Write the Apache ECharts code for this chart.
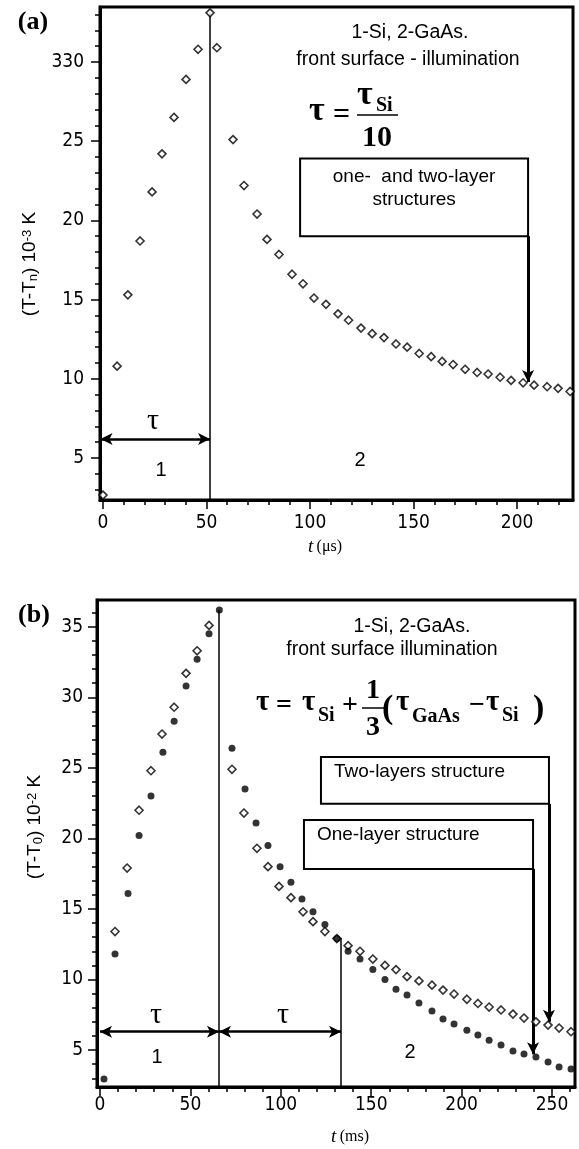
<!DOCTYPE html>
<html><head><meta charset="utf-8">
<script src="https://cdn.jsdelivr.net/npm/echarts@6/dist/echarts.min.js"></script>
<style>html,body{margin:0;padding:0;background:#fff}#c{width:579px;height:1149px}</style>
</head><body><div id="c"></div>
<script>
// ---------- Panel (a) data ----------
const tA = [0,6.8,12,17.9,23.7,28.5,34.3,40.1,45.9,51.7,55,62.8,68.1,74.4,79.2,85,91.3,96.6,101.9,107.7,113.5,118.6,124.6,130,135.7,141.5,146.9,152.7,158.5,163.8,169.1,174.9,180.7,186,191.8,197.1,202.9,208.2,214.5,219.8,225.6];
const yA = [2.66,10.8,15.3,18.7,21.8,24.2,26.5,28.9,30.8,33.1,30.9,25.1,22.2,20.4,18.8,17.85,16.6,16.0,15.1,14.7,14.1,13.7,13.2,12.85,12.6,12.2,12.0,11.6,11.4,11.1,10.9,10.6,10.4,10.3,10.1,9.9,9.75,9.6,9.5,9.4,9.2];
const xRangeA = [-1.45, 227];
const yRangeA = [2.35, 33.47];
const xMajorA = [0,50,100,150,200];
const xMinorA = [0,10,20,30,40,50,60,70,80,90,100,110,120,130,140,150,160,170,180,190,200,210,220];
const yMajorA = [5,10,15,20,25,30];
const yLabelsA = ['5','10','15','20','25','330'];
const yMinorA = [3,4,5,6,7,8,9,10,11,12,13,14,15,16,17,18,19,20,21,22,23,24,25,26,27,28,29,30,31,32,33];
// annotations (a): tau line, tau arrow, box, pointer
const tauLineA = [51.7, 33.1];
const tauArrowA = [-1.2, 51.7, 6.2];
const boxA = [95.2, 23.9, 205.3, 19.0];
const pointerA = [205.3, 19.0, 9.8];

// ---------- Panel (b) data ----------
const tB1 = [8.3,15,21.6,28.2,34.3,41,47.6,53.7,60.3,73,79.6,86.8,92.9,99,105.6,112.3,117.8,124.4,131,137.2,143.8,150.9,157.6,163.7,169.8,176.4,183.6,189.7,195.8,202.9,209,215.2,221.8,228.4,234.5,241.1,247.8,253.9,260.5];
const yB1 = [13.4,17.9,22.0,24.8,27.4,29.3,31.7,33.3,35.1,24.9,21.8,19.3,18.0,16.6,15.8,14.8,14.1,13.4,12.9,12.4,12.0,11.45,11.0,10.7,10.2,9.9,9.6,9.25,8.97,8.6,8.3,8.05,7.84,7.55,7.27,7.0,6.77,6.56,6.3];
const tB2 = [2.2,8.3,15.5,21.6,28.2,34.8,41,47.6,53.7,60.3,66,73,80.2,86.3,92.9,99.6,105.6,111.7,117.8,124.4,131,137.2,143.8,150.9,157.6,163.7,169.8,176.4,183.6,189.7,195.8,202.9,209,215.2,221.8,228.4,234.5,241.1,247.8,253.9,260.5];
const yB2 = [2.94,11.8,16.1,20.2,23.0,26.1,28.3,30.8,32.7,34.5,36.2,26.4,23.5,21.1,19.5,18.0,16.9,15.7,14.8,13.9,12.9,12.0,11.45,10.7,10.0,9.3,8.9,8.33,7.77,7.2,6.84,6.4,6.06,5.7,5.35,4.93,4.72,4.5,4.15,3.8,3.65];
const xRangeB = [-1.66, 262.7];
const yRangeB = [2.38, 36.9];
const xMajorB = [0,50,100,150,200,250];
const xMinorB = [0,10,20,30,40,50,60,70,80,90,100,110,120,130,140,150,160,170,180,190,200,210,220,230,240,250,260];
const yMajorB = [5,10,15,20,25,30,35];
const yMinorB = [3,4,5,6,7,8,9,10,11,12,13,14,15,16,17,18,19,20,21,22,23,24,25,26,27,28,29,30,31,32,33,34,35,36];
const tauLine1B = [65.8, 36.2];
const tauLine2B = [133.3, 12.94];
const tauArrowB = [0, 65.8, 133.3, 6.3];
const boxTwoB = [122.2, 25.78, 248.3, 22.45];
const pointerTwoB = [248.3, 22.45, 7.0];
const boxOneB = [112.8, 21.31, 239.5, 17.84];
const pointerOneB = [239.5, 17.84, 4.7];

// ---------- styles ----------
const tickFont = '"Liberation Sans Narrow","DejaVu Sans Condensed","Liberation Sans",sans-serif';
const serif = '"Liberation Serif","DejaVu Serif",serif';
const sans = '"Liberation Sans",Arial,sans-serif';

function axisPair(kind, grid, range, major, minor, fmt, margin) {
  const base = {type:'value', gridIndex:grid, min:range[0], max:range[1], splitLine:{show:false},
                position: kind === 'x' ? 'bottom' : 'left', offset:0};
  return [
    Object.assign({}, base, {
      axisLine:{show:true, onZero:false, lineStyle:{color:'#000', width:3}},
      axisTick:{show:true, customValues:major, length:9, lineStyle:{color:'#000', width:1.5}},
      axisLabel:{show:true, customValues:major, margin:margin, formatter:fmt, color:'#000', fontSize:19, fontFamily:tickFont}
    }),
    Object.assign({}, base, {
      axisLine:{show:false, onZero:false},
      axisTick:{show:true, customValues:minor, length:5, lineStyle:{color:'#000', width:1.5}},
      axisLabel:{show:false}
    })
  ];
}

const xAxes = [].concat(
  axisPair('x', 0, xRangeA, xMajorA, xMinorA, v => String(v), 14),
  axisPair('x', 1, xRangeB, xMajorB, xMinorB, v => String(v), 9)
);
const yAxes = [].concat(
  axisPair('y', 0, yRangeA, yMajorA, yMinorA, v => { const i = yMajorA.indexOf(v); return i >= 0 ? yLabelsA[i] : String(v); }, 16),
  axisPair('y', 1, yRangeB, yMajorB, yMinorB, v => String(v), 14)
);

function seg(p1, p2, s1, s2, w) {
  return [{coord:p1, symbol:s1, lineStyle:{width:w, color:'#000', type:'solid'}}, {coord:p2, symbol:s2}];
}
const noLabel = {show:false};

const markLineA = {
  silent:true, animation:false, label:noLabel, symbolSize:[9,12],
  lineStyle:{color:'#000', width:1.5, type:'solid'},
  data:[
    seg([tauLineA[0], yRangeA[0]], [tauLineA[0], tauLineA[1]], 'none', 'none', 1.5),
    seg([tauArrowA[0], tauArrowA[2]], [tauArrowA[1], tauArrowA[2]], 'arrow', 'arrow', 2.5),
    seg([pointerA[0], pointerA[1]], [pointerA[0], pointerA[2]], 'none', 'arrow', 3)
  ]
};
const markAreaA = {
  silent:true, animation:false,
  itemStyle:{color:'#fff', borderColor:'#000', borderWidth:2},
  label:{show:true, position:'insideTop', distance:8, color:'#000', fontSize:19, fontFamily:sans, lineHeight:23, align:'center'},
  data:[[{name:'one-  and two-layer\nstructures', coord:[boxA[0], boxA[1]]}, {coord:[boxA[2], boxA[3]]}]]
};
const markLineB = {
  silent:true, animation:false, label:noLabel, symbolSize:[9,12],
  lineStyle:{color:'#000', width:1.5, type:'solid'},
  data:[
    seg([tauLine1B[0], yRangeB[0]], [tauLine1B[0], tauLine1B[1]], 'none', 'none', 1.5),
    seg([tauLine2B[0], yRangeB[0]], [tauLine2B[0], tauLine2B[1]], 'none', 'none', 1.5),
    seg([tauArrowB[0], tauArrowB[3]], [tauArrowB[1], tauArrowB[3]], 'arrow', 'arrow', 2.5),
    seg([tauArrowB[1], tauArrowB[3]], [tauArrowB[2], tauArrowB[3]], 'arrow', 'arrow', 2.5),
    seg([pointerTwoB[0], pointerTwoB[1]], [pointerTwoB[0], pointerTwoB[2]], 'none', 'arrow', 3),
    seg([pointerOneB[0], pointerOneB[1]], [pointerOneB[0], pointerOneB[2]], 'none', 'arrow', 3)
  ]
};
const markAreaB = {
  silent:true, animation:false,
  itemStyle:{color:'#fff', borderColor:'#000', borderWidth:2},
  label:{show:true, position:'insideTopLeft', distance:6, offset:[8,0], color:'#000', fontSize:19, fontFamily:sans},
  data:[
    [{name:'Two-layers structure', coord:[boxTwoB[0], boxTwoB[1]]}, {coord:[boxTwoB[2], boxTwoB[3]]}],
    [{name:'One-layer structure', coord:[boxOneB[0], boxOneB[1]]}, {coord:[boxOneB[2], boxOneB[3]]}]
  ]
};

// ---------- graphic text ----------
function txt(x, y, text, font, align, extra) {
  align = align || 'center';
  return {type:'text', x:x, y:y, z:100, silent:true,
    style:Object.assign({text:text, font:font, fill:'#000', align:align, verticalAlign:'middle', textAlign:align, textVerticalAlign:'middle'}, extra || {})};
}
function hline(x1, x2, y, w) {
  return {type:'line', z:100, silent:true, shape:{x1:x1, y1:y, x2:x2, y2:y}, style:{stroke:'#000', lineWidth:w}};
}
const TAU1 = 'bold 34px ' + serif, EQ = 'bold 30px ' + serif, EQS = 'bold 20px ' + serif;
const TAU2 = 'bold 29px ' + serif, EQ2 = 'bold 28px ' + serif, EQ2S = 'bold 20px ' + serif;
const graphics = [
  txt(33, 22, '(a)', 'bold 26px ' + serif),
  txt(34, 615, '(b)', 'bold 26px ' + serif),
  // panel a texts
  txt(410, 33, '1-Si, 2-GaAs.', '19.5px ' + sans),
  txt(408, 60, 'front surface - illumination', '19.5px ' + sans),
  txt(309, 111, 'τ', TAU1, 'left'),
  txt(333, 115, '=', EQ, 'left'),
  txt(357, 95, 'τ', TAU1, 'left'),
  txt(376, 106, 'Si', EQS, 'left'),
  hline(357, 398, 115, 1.5),
  txt(377, 138, '10', EQ),
  txt(153, 421, 'τ', '30px ' + serif),
  txt(161, 470, '1', '20px ' + sans),
  txt(360, 460, '2', '20px ' + sans),
  {type:'text', x:325, y:547, z:100, style:{text:'{i|t} {r|(μs)}', align:'center', verticalAlign:'middle', textAlign:'center', textVerticalAlign:'middle', fill:'#000',
     rich:{i:{font:'italic 19px ' + serif}, r:{font:'16px ' + serif}}}},
  {type:'text', x:30, y:264, rotation:Math.PI/2, z:100, style:{text:'(T-T{sub|n}) 10{sup|-3} K', align:'center', verticalAlign:'middle', textAlign:'center', textVerticalAlign:'middle', fill:'#000', font:'19px ' + sans,
     rich:{sub:{font:'13px ' + sans, verticalAlign:'bottom'}, sup:{font:'13px ' + sans, verticalAlign:'top'}}}},
  // panel b texts
  txt(412, 627, '1-Si, 2-GaAs.', '19.5px ' + sans),
  txt(392, 650, 'front surface illumination', '19.5px ' + sans),
  txt(256, 703, 'τ', TAU2, 'left'),
  txt(276, 706, '=', EQ2, 'left'),
  txt(302, 703, 'τ', TAU2, 'left'),
  txt(318, 716, 'Si', EQ2S, 'left'),
  txt(342, 706, '+', EQ2, 'left'),
  txt(373, 691, '1', EQ2),
  hline(362, 384, 708, 1.5),
  txt(373, 728, '3', EQ2),
  txt(382, 709, '(', 'bold 34px ' + serif, 'left'),
  txt(396, 703, 'τ', TAU2, 'left'),
  txt(412, 717, 'GaAs', EQ2S, 'left'),
  txt(469, 706, '\u2212', EQ2, 'left'),
  txt(486, 703, 'τ', TAU2, 'left'),
  txt(502, 716, 'Si', EQ2S, 'left'),
  txt(533, 709, ')', 'bold 34px ' + serif, 'left'),
  txt(156, 1015, 'τ', '30px ' + serif),
  txt(283, 1015, 'τ', '30px ' + serif),
  txt(157, 1057, '1', '20px ' + sans),
  txt(410, 1052, '2', '20px ' + sans),
  {type:'text', x:350, y:1137, z:100, style:{text:'{i|t} {r|(ms)}', align:'center', verticalAlign:'middle', textAlign:'center', textVerticalAlign:'middle', fill:'#000',
     rich:{i:{font:'italic 19px ' + serif}, r:{font:'16px ' + serif}}}},
  {type:'text', x:35, y:827, rotation:Math.PI/2, z:100, style:{text:'(T-T{sub|0}) 10{sup|-2} K', align:'center', verticalAlign:'middle', textAlign:'center', textVerticalAlign:'middle', fill:'#000', font:'19px ' + sans,
     rich:{sub:{font:'13px ' + sans, verticalAlign:'bottom'}, sup:{font:'13px ' + sans, verticalAlign:'top'}}}}
];

const chart = echarts.init(document.getElementById('c'));
chart.setOption({
  animation:false,
  backgroundColor:'#fff',
  grid:[
    {left:100, top:7, width:473, height:493, show:true, borderColor:'#000', borderWidth:3, backgroundColor:'transparent'},
    {left:97, top:600, width:478, height:487, show:true, borderColor:'#000', borderWidth:3, backgroundColor:'transparent'}
  ],
  xAxis:xAxes,
  yAxis:yAxes,
  series:[
    {type:'scatter', name:'annA', xAxisIndex:0, yAxisIndex:0, data:[], markLine:markLineA, markArea:markAreaA, z:2},
    {type:'scatter', name:'a', xAxisIndex:0, yAxisIndex:0, data:tA.map((t,i)=>[t,yA[i]]), symbol:'diamond', symbolSize:8,
     itemStyle:{color:'#fff', borderColor:'#000', borderWidth:1.6}, z:5},
    {type:'scatter', name:'annB', xAxisIndex:2, yAxisIndex:2, data:[], markLine:markLineB, markArea:markAreaB, z:2},
    {type:'scatter', name:'b-two', xAxisIndex:2, yAxisIndex:2, data:tB1.map((t,i)=>[t,yB1[i]]), symbol:'diamond', symbolSize:8,
     itemStyle:{color:'#fff', borderColor:'#000', borderWidth:1.6}, z:5},
    {type:'scatter', name:'b-one', xAxisIndex:2, yAxisIndex:2, data:tB2.map((t,i)=>[t,yB2[i]]), symbol:'circle', symbolSize:7,
     itemStyle:{color:'#000'}, z:6}
  ],
  graphic:graphics
});
</script>
</body></html>
